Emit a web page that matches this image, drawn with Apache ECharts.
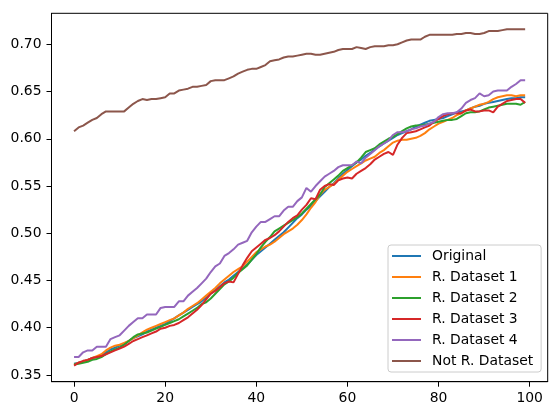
<!DOCTYPE html>
<html>
<head>
<meta charset="UTF-8">
<title></title>
<script src="https://cdn.jsdelivr.net/npm/echarts@6/dist/echarts.min.js"></script>
<style>
  * { margin: 0; padding: 0; }
  #app { width: 560px; height: 416px; background: #fff; }
</style>
</head>
<body>
<div id="app"></div>
<script>
var names = ['Original', 'R. Dataset 1', 'R. Dataset 2', 'R. Dataset 3', 'R. Dataset 4', 'Not R. Dataset'];
var colors = ['#1f77b4', '#ff7f0e', '#2ca02c', '#d62728', '#9467bd', '#8c564b'];
var xTicks = [0, 20, 40, 60, 80, 100];
var yTicks = [0.35, 0.40, 0.45, 0.50, 0.55, 0.60, 0.65, 0.70];

var original = [
  0.362, 0.363, 0.364, 0.366, 0.368, 0.369, 0.371, 0.374, 0.377, 0.379,
  0.381, 0.383, 0.386, 0.389, 0.391, 0.393, 0.396, 0.398, 0.400, 0.402,
  0.404, 0.407, 0.410, 0.413, 0.416, 0.419, 0.422, 0.425, 0.428, 0.432,
  0.436, 0.440, 0.444, 0.448, 0.451, 0.455, 0.459, 0.463, 0.467, 0.472,
  0.477, 0.481, 0.485, 0.489, 0.493, 0.497, 0.501, 0.506, 0.511, 0.516,
  0.520, 0.525, 0.529, 0.534, 0.539, 0.544, 0.549, 0.553, 0.558, 0.563,
  0.567, 0.571, 0.575, 0.578, 0.582, 0.585, 0.589, 0.592, 0.595, 0.598,
  0.601, 0.604, 0.606, 0.608, 0.610, 0.613, 0.615, 0.617, 0.619, 0.620,
  0.621, 0.622, 0.624, 0.626, 0.628, 0.629, 0.630, 0.632, 0.634, 0.635,
  0.637, 0.638, 0.639, 0.640, 0.641, 0.642, 0.643, 0.643, 0.644, 0.644
];
var rData1 = [
  0.361, 0.363, 0.364, 0.366, 0.368, 0.370, 0.372, 0.376, 0.379, 0.381,
  0.382, 0.384, 0.386, 0.389, 0.392, 0.395, 0.398, 0.400, 0.402, 0.404,
  0.406, 0.408, 0.410, 0.413, 0.416, 0.420, 0.423, 0.426, 0.430, 0.434,
  0.438, 0.442, 0.447, 0.451, 0.455, 0.459, 0.462, 0.465, 0.470, 0.475,
  0.480, 0.483, 0.486, 0.488, 0.491, 0.495, 0.499, 0.502, 0.505, 0.509,
  0.514, 0.520, 0.527, 0.533, 0.541, 0.546, 0.549, 0.552, 0.557, 0.561,
  0.565, 0.568, 0.571, 0.574, 0.577, 0.579, 0.581, 0.585, 0.588, 0.592,
  0.596, 0.598, 0.599, 0.599, 0.600, 0.601, 0.603, 0.606, 0.610, 0.613,
  0.616, 0.618, 0.620, 0.622, 0.625, 0.627, 0.630, 0.632, 0.634, 0.636,
  0.637, 0.639, 0.642, 0.644, 0.645, 0.646, 0.646, 0.645, 0.646, 0.646
];
var rData2 = [
  0.361, 0.362, 0.363, 0.364, 0.366, 0.367, 0.369, 0.372, 0.375, 0.377,
  0.379, 0.382, 0.386, 0.390, 0.393, 0.394, 0.395, 0.397, 0.399, 0.401,
  0.403, 0.405, 0.407, 0.409, 0.412, 0.415, 0.418, 0.421, 0.425, 0.427,
  0.431, 0.436, 0.441, 0.446, 0.449, 0.453, 0.458, 0.462, 0.466, 0.472,
  0.478, 0.485, 0.491, 0.496, 0.502, 0.505, 0.508, 0.511, 0.514, 0.517,
  0.521, 0.526, 0.531, 0.536, 0.541, 0.549, 0.553, 0.557, 0.561, 0.566,
  0.569, 0.572, 0.575, 0.580, 0.586, 0.588, 0.590, 0.594, 0.597, 0.600,
  0.602, 0.605, 0.608, 0.611, 0.613, 0.614, 0.614, 0.615, 0.616, 0.617,
  0.618, 0.619, 0.620, 0.620, 0.621, 0.624, 0.627, 0.628, 0.628, 0.629,
  0.631, 0.633, 0.634, 0.635, 0.636, 0.637, 0.637, 0.637, 0.636, 0.639
];
var rData3 = [
  0.360, 0.363, 0.365, 0.366, 0.368, 0.369, 0.370, 0.372, 0.374, 0.376,
  0.378, 0.380, 0.383, 0.386, 0.388, 0.390, 0.392, 0.394, 0.396, 0.399,
  0.400, 0.402, 0.403, 0.405, 0.408, 0.411, 0.415, 0.419, 0.424, 0.430,
  0.436, 0.439, 0.443, 0.447, 0.449, 0.448, 0.457, 0.466, 0.474, 0.481,
  0.485, 0.489, 0.493, 0.495, 0.498, 0.502, 0.507, 0.512, 0.516, 0.519,
  0.525, 0.530, 0.537, 0.536, 0.546, 0.550, 0.552, 0.551, 0.556, 0.558,
  0.559, 0.558, 0.563, 0.566, 0.569, 0.573, 0.578, 0.581, 0.584, 0.586,
  0.583, 0.594, 0.601, 0.606, 0.607, 0.608, 0.610, 0.612, 0.614, 0.618,
  0.621, 0.624, 0.626, 0.627, 0.627, 0.627, 0.630, 0.631, 0.629, 0.629,
  0.630, 0.630, 0.628, 0.634, 0.637, 0.640, 0.641, 0.642, 0.642, 0.638
];
var rData4 = [
  0.369, 0.369, 0.374, 0.376, 0.376, 0.380, 0.380, 0.380, 0.388, 0.390,
  0.392, 0.397, 0.402, 0.406, 0.410, 0.410, 0.414, 0.414, 0.414, 0.421,
  0.422, 0.422, 0.422, 0.428, 0.428, 0.434, 0.438, 0.442, 0.447, 0.452,
  0.459, 0.465, 0.468, 0.476, 0.479, 0.483, 0.488, 0.490, 0.492, 0.501,
  0.507, 0.512, 0.512, 0.515, 0.518, 0.518, 0.524, 0.528, 0.528, 0.534,
  0.538, 0.548, 0.544, 0.550, 0.555, 0.560, 0.563, 0.566, 0.570, 0.572,
  0.572, 0.572, 0.576, 0.574, 0.580, 0.584, 0.588, 0.592, 0.595, 0.598,
  0.604, 0.607, 0.607, 0.608, 0.610, 0.611, 0.613, 0.614, 0.616, 0.618,
  0.623, 0.626, 0.627, 0.627, 0.628, 0.632, 0.638, 0.641, 0.643, 0.648,
  0.645, 0.646, 0.650, 0.651, 0.651, 0.651, 0.655, 0.658, 0.662, 0.662
];
var notRData = [
  0.608, 0.612, 0.614, 0.617, 0.620, 0.622, 0.626, 0.629, 0.629, 0.629,
  0.629, 0.629, 0.633, 0.637, 0.640, 0.642, 0.641, 0.642, 0.642, 0.643,
  0.644, 0.648, 0.648, 0.651, 0.652, 0.653, 0.655, 0.655, 0.656, 0.657,
  0.661, 0.662, 0.662, 0.662, 0.664, 0.666, 0.669, 0.671, 0.673, 0.674,
  0.674, 0.676, 0.678, 0.682, 0.683, 0.684, 0.686, 0.687, 0.687, 0.688,
  0.689, 0.690, 0.690, 0.689, 0.689, 0.690, 0.691, 0.692, 0.694, 0.695,
  0.695, 0.695, 0.697, 0.696, 0.695, 0.697, 0.698, 0.698, 0.698, 0.699,
  0.699, 0.700, 0.702, 0.704, 0.705, 0.705, 0.705, 0.708, 0.710, 0.710,
  0.710, 0.710, 0.710, 0.710, 0.711, 0.711, 0.712, 0.712, 0.711, 0.711,
  0.712, 0.714, 0.714, 0.714, 0.715, 0.716, 0.716, 0.716, 0.716, 0.716
];

var allData = [original, rData1, rData2, rData3, rData4, notRData];

var chart = echarts.init(document.getElementById('app'), null, { renderer: 'canvas' });

var font = 'DejaVu Sans';

var series = allData.map(function (vals, k) {
  return {
    name: names[k],
    type: 'line',
    showSymbol: false,
    symbol: 'none',
    lineStyle: { color: colors[k], width: 2 },
    itemStyle: { color: colors[k] },
    data: vals.map(function (v, i) { return [i, v]; })
  };
});

chart.setOption({
  animation: false,
  backgroundColor: '#fff',
  grid: {
    left: 51.5, right: 12.3, top: 13.3, bottom: 34.3,
    show: true, borderColor: '#000', borderWidth: 1, backgroundColor: 'transparent'
  },
  xAxis: {
    type: 'value',
    min: -4.95, max: 103.95,
    axisLine: { show: true, onZero: false, lineStyle: { color: '#000', width: 1 } },
    axisTick: { show: true, inside: false, length: 5, lineStyle: { color: '#000' }, customValues: xTicks },
    axisLabel: { color: '#000', fontFamily: font, fontSize: 13.9, margin: 10, customValues: xTicks },
    splitLine: { show: false }
  },
  yAxis: {
    type: 'value',
    min: 0.3429, max: 0.7328,
    axisLine: { show: true, onZero: false, lineStyle: { color: '#000', width: 1 } },
    axisTick: { show: true, inside: false, length: 5, lineStyle: { color: '#000' }, customValues: yTicks },
    axisLabel: {
      color: '#000', fontFamily: font, fontSize: 13.9, margin: 10, customValues: yTicks,
      formatter: function (v) { return v.toFixed(2); }
    },
    splitLine: { show: false }
  },
  legend: {
    data: names,
    orient: 'vertical',
    left: 388, top: 245,
    padding: [4, 8, 4, 4],
    itemGap: 7,
    itemWidth: 29,
    itemHeight: 2,
    icon: 'rect',
    backgroundColor: 'rgba(255,255,255,0.8)',
    borderColor: '#cccccc',
    borderWidth: 1,
    borderRadius: 3,
    textStyle: { color: '#000', fontFamily: font, fontSize: 13.9, lineHeight: 14, padding: [0, 0, 0, 6] }
  },
  series: series
});
</script>
</body>
</html>
